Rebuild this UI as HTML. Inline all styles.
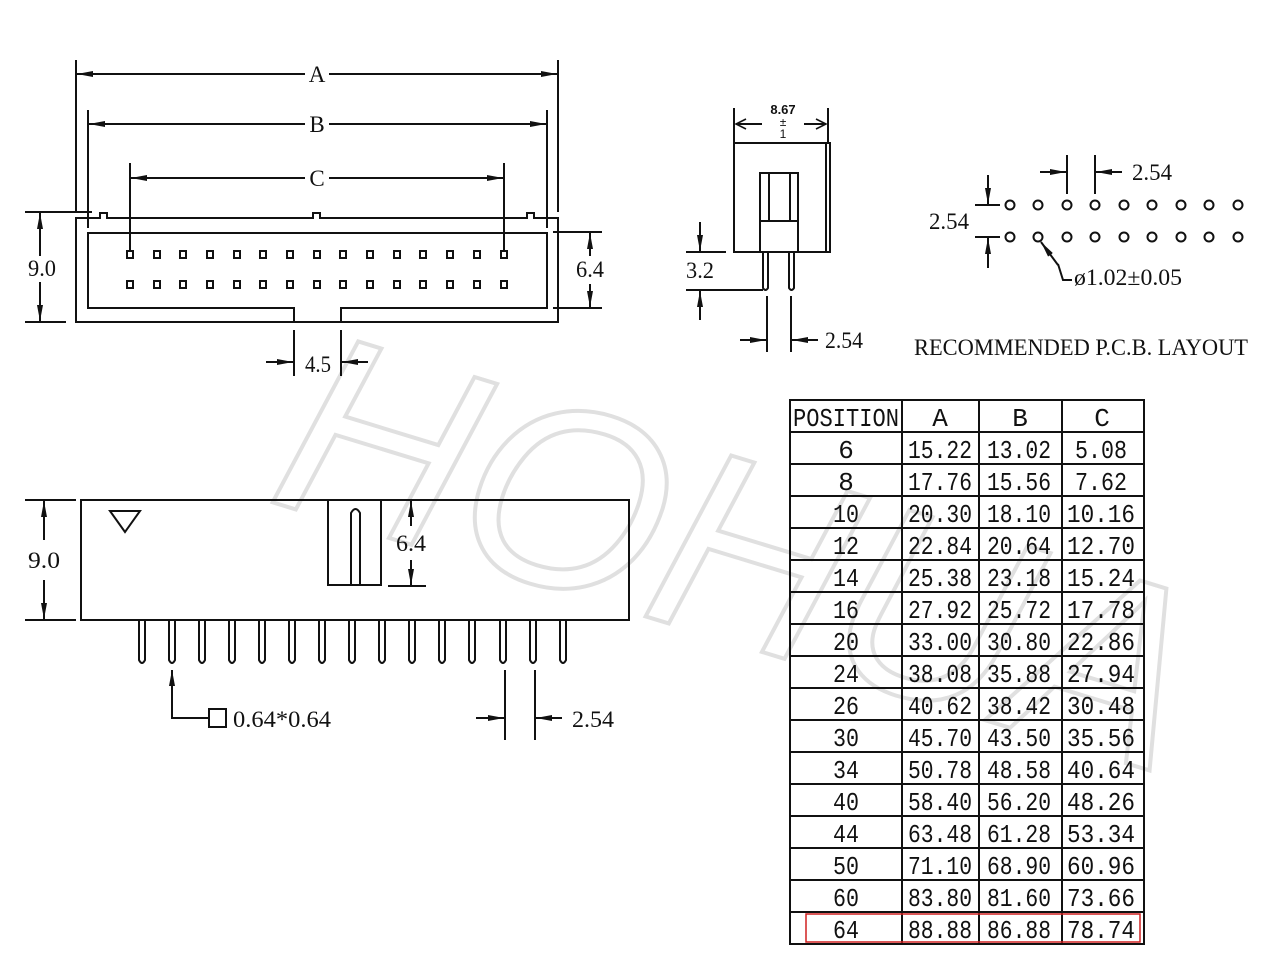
<!DOCTYPE html>
<html><head><meta charset="utf-8"><style>
html,body{margin:0;padding:0;background:#fff;}
svg{display:block;}
.d{font-family:"Liberation Serif",serif;font-size:23px;fill:#111;}
.t{font-family:"Liberation Mono",monospace;font-size:26px;fill:#111;}
</style></head><body>
<svg width="1280" height="972" viewBox="0 0 1280 972" xmlns="http://www.w3.org/2000/svg">
<defs>
<marker id="ar" viewBox="0 0 16 8" refX="16" refY="4" markerWidth="16" markerHeight="8" markerUnits="userSpaceOnUse" orient="auto-start-reverse"><path d="M0,1 L16,4 L0,7 Z" fill="#111"/></marker>
<marker id="oa" viewBox="0 0 12 12" refX="11" refY="6" markerWidth="12" markerHeight="12" markerUnits="userSpaceOnUse" orient="auto-start-reverse"><path d="M1,1 L11,6 L1,11" fill="none" stroke="#111" stroke-width="1.6"/></marker>
</defs>
<rect width="1280" height="972" fill="#fff"/>
<!-- watermark -->
<text x="265" y="500" transform="rotate(17 265 500)" font-family="Liberation Sans,sans-serif" font-style="italic" font-size="260" fill="none" stroke="#e0e0e0" stroke-width="4">HOHUA</text>

<g stroke="#111" stroke-width="2" fill="none">
<!-- TOP VIEW -->
<path d="M76,218 H100 V213 H107 V218 H313 V213 H320 V218 H527 V213 H534 V218 H558 V322 H76 Z"/>
<path d="M294,322 V308 H88 V233 H547 V308 H341 V322"/>
<path d="M76,60 V212 M558,60 V212 M88,110 V228 M547,110 V228 M130,163 V250 M504,163 V250"/>
<path d="M25,212 H92 M25,322 H66 M553,232 H602 M553,308 H602"/>
<path d="M294,330 V376 M341,330 V376"/>
</g>
<g stroke="#111" stroke-width="2">
<line x1="77" y1="74" x2="305" y2="74" marker-start="url(#ar)"/>
<line x1="329" y1="74" x2="557" y2="74" marker-end="url(#ar)"/>
<line x1="89" y1="124" x2="305" y2="124" marker-start="url(#ar)"/>
<line x1="329" y1="124" x2="546" y2="124" marker-end="url(#ar)"/>
<line x1="131" y1="178" x2="305" y2="178" marker-start="url(#ar)"/>
<line x1="329" y1="178" x2="503" y2="178" marker-end="url(#ar)"/>
<line x1="40" y1="213" x2="40" y2="256" marker-start="url(#ar)"/>
<line x1="40" y1="282" x2="40" y2="321" marker-end="url(#ar)"/>
<line x1="590" y1="233" x2="590" y2="256" marker-start="url(#ar)"/>
<line x1="590" y1="284" x2="590" y2="307" marker-end="url(#ar)"/>
<line x1="266" y1="362" x2="293" y2="362" marker-end="url(#ar)"/>
<line x1="368" y1="362" x2="342" y2="362" marker-end="url(#ar)"/>
</g>
<g fill="none" stroke="#111" stroke-width="2">
<rect x="127" y="251" width="6" height="7"/><rect x="154" y="251" width="6" height="7"/><rect x="180" y="251" width="6" height="7"/><rect x="207" y="251" width="6" height="7"/><rect x="234" y="251" width="6" height="7"/><rect x="260" y="251" width="6" height="7"/><rect x="287" y="251" width="6" height="7"/><rect x="314" y="251" width="6" height="7"/><rect x="340" y="251" width="6" height="7"/><rect x="367" y="251" width="6" height="7"/><rect x="394" y="251" width="6" height="7"/><rect x="420" y="251" width="6" height="7"/><rect x="447" y="251" width="6" height="7"/><rect x="474" y="251" width="6" height="7"/><rect x="501" y="251" width="6" height="7"/>
<rect x="127" y="281" width="6" height="7"/><rect x="154" y="281" width="6" height="7"/><rect x="180" y="281" width="6" height="7"/><rect x="207" y="281" width="6" height="7"/><rect x="234" y="281" width="6" height="7"/><rect x="260" y="281" width="6" height="7"/><rect x="287" y="281" width="6" height="7"/><rect x="314" y="281" width="6" height="7"/><rect x="340" y="281" width="6" height="7"/><rect x="367" y="281" width="6" height="7"/><rect x="394" y="281" width="6" height="7"/><rect x="420" y="281" width="6" height="7"/><rect x="447" y="281" width="6" height="7"/><rect x="474" y="281" width="6" height="7"/><rect x="501" y="281" width="6" height="7"/>
</g>
<text class="d" x="317" y="82" text-anchor="middle">A</text>
<text class="d" x="317" y="132" text-anchor="middle">B</text>
<text class="d" x="317" y="186" text-anchor="middle">C</text>
<text class="d" x="28" y="276" textLength="28" lengthAdjust="spacingAndGlyphs">9.0</text>
<text class="d" x="576" y="277" textLength="28" lengthAdjust="spacingAndGlyphs">6.4</text>
<text class="d" x="305" y="372" textLength="26" lengthAdjust="spacingAndGlyphs">4.5</text>

<!-- SIDE VIEW -->
<g stroke="#111" stroke-width="2" fill="none">
<path d="M734,108 V142 M828,108 V142"/>
<rect x="734" y="143" width="96" height="109"/>
<line x1="826" y1="143" x2="826" y2="252"/>
<rect x="760" y="173" width="38" height="79"/>
<path d="M769,173 V221 M790,173 V221 M760,221 H798"/>
<path d="M763,252 V288 Q765.5,292 768,288 V252 M789,252 V288 Q791.5,292 794,288 V252"/>
<path d="M686,252 H726 M686,290 H763"/>
<path d="M767,296 V352 M791,296 V352"/>
</g>
<g stroke="#111" stroke-width="2">
<line x1="762" y1="124" x2="736" y2="124" marker-end="url(#oa)"/>
<line x1="804" y1="124" x2="826" y2="124" marker-end="url(#oa)"/>
<line x1="700" y1="222" x2="700" y2="251" marker-end="url(#ar)"/>
<line x1="700" y1="320" x2="700" y2="291" marker-end="url(#ar)"/>
<line x1="740" y1="340" x2="766" y2="340" marker-end="url(#ar)"/>
<line x1="818" y1="340" x2="792" y2="340" marker-end="url(#ar)"/>
</g>
<text x="783" y="114" text-anchor="middle" font-family="Liberation Sans,sans-serif" font-weight="bold" font-size="13" fill="#111">8.67</text>
<text x="783" y="126" text-anchor="middle" font-family="Liberation Sans,sans-serif" font-size="12" fill="#111">±</text>
<text x="783" y="138" text-anchor="middle" font-family="Liberation Sans,sans-serif" font-size="12" fill="#111">1</text>
<text class="d" x="686" y="278" textLength="28" lengthAdjust="spacingAndGlyphs">3.2</text>
<text class="d" x="825" y="348" textLength="38" lengthAdjust="spacingAndGlyphs">2.54</text>

<!-- PCB LAYOUT -->
<g stroke="#111" stroke-width="2" fill="none">
<circle cx="1010" cy="205" r="4.5"/><circle cx="1038" cy="205" r="4.5"/><circle cx="1067" cy="205" r="4.5"/><circle cx="1095" cy="205" r="4.5"/><circle cx="1124" cy="205" r="4.5"/><circle cx="1152" cy="205" r="4.5"/><circle cx="1181" cy="205" r="4.5"/><circle cx="1209" cy="205" r="4.5"/><circle cx="1238" cy="205" r="4.5"/>
<circle cx="1010" cy="237" r="4.5"/><circle cx="1038" cy="237" r="4.5"/><circle cx="1067" cy="237" r="4.5"/><circle cx="1095" cy="237" r="4.5"/><circle cx="1124" cy="237" r="4.5"/><circle cx="1152" cy="237" r="4.5"/><circle cx="1181" cy="237" r="4.5"/><circle cx="1209" cy="237" r="4.5"/><circle cx="1238" cy="237" r="4.5"/>
<path d="M1067,155 V194 M1095,155 V194 M975,205 H1000 M975,237 H1000"/>
<path d="M1058,264 L1063,280 H1072"/>
</g>
<g stroke="#111" stroke-width="2">
<line x1="1040" y1="172" x2="1066" y2="172" marker-end="url(#ar)"/>
<line x1="1122" y1="172" x2="1096" y2="172" marker-end="url(#ar)"/>
<line x1="988" y1="175" x2="988" y2="204" marker-end="url(#ar)"/>
<line x1="988" y1="268" x2="988" y2="238" marker-end="url(#ar)"/>
<line x1="1058" y1="265" x2="1041" y2="242" marker-end="url(#ar)"/>
</g>
<text class="d" x="1132" y="180" textLength="40" lengthAdjust="spacingAndGlyphs">2.54</text>
<text class="d" x="929" y="229" textLength="40" lengthAdjust="spacingAndGlyphs">2.54</text>
<text class="d" x="1074" y="285" textLength="108" lengthAdjust="spacingAndGlyphs">ø1.02±0.05</text>
<text class="d" x="914" y="355" textLength="334" lengthAdjust="spacingAndGlyphs">RECOMMENDED P.C.B. LAYOUT</text>

<!-- BOTTOM SIDE VIEW -->
<g stroke="#111" stroke-width="2" fill="none">
<rect x="81" y="500" width="548" height="120"/>
<path d="M110,511 H140 L125,532 Z"/>
<path d="M328,500 V585 H381 V500"/>
<path d="M351,585 V513 Q355.5,505 360,513 V585"/>
<path d="M25,500 H76 M25,620 H76 M388,586 H426"/>
<path d="M172,680 V718 H208"/>
<rect x="209" y="709" width="17" height="18"/>
<path d="M505,670 V740 M535,670 V740"/>
<g id="pin"><path d="M139,621 V660 Q142,666 145,660 V621"/></g>
<use href="#pin" x="30"/><use href="#pin" x="60"/><use href="#pin" x="90"/><use href="#pin" x="120"/><use href="#pin" x="150"/><use href="#pin" x="180"/><use href="#pin" x="210"/><use href="#pin" x="240"/><use href="#pin" x="270"/><use href="#pin" x="300"/><use href="#pin" x="330"/><use href="#pin" x="361"/><use href="#pin" x="391"/><use href="#pin" x="421"/>
</g>
<g stroke="#111" stroke-width="2">
<line x1="44" y1="501" x2="44" y2="540" marker-start="url(#ar)"/>
<line x1="44" y1="580" x2="44" y2="619" marker-end="url(#ar)"/>
<line x1="411" y1="501" x2="411" y2="526" marker-start="url(#ar)"/>
<line x1="411" y1="560" x2="411" y2="585" marker-end="url(#ar)"/>
<line x1="172" y1="690" x2="172" y2="670" marker-end="url(#ar)"/>
<line x1="476" y1="718" x2="504" y2="718" marker-end="url(#ar)"/>
<line x1="562" y1="718" x2="536" y2="718" marker-end="url(#ar)"/>
</g>
<text class="d" x="28" y="568" textLength="32" lengthAdjust="spacingAndGlyphs">9.0</text>
<text class="d" x="396" y="551" textLength="30" lengthAdjust="spacingAndGlyphs">6.4</text>
<text class="d" x="233" y="727" textLength="98" lengthAdjust="spacingAndGlyphs">0.64*0.64</text>
<text class="d" x="572" y="727" textLength="42" lengthAdjust="spacingAndGlyphs">2.54</text>

<!-- TABLE -->
<g stroke="#111" stroke-width="2" fill="none">
<rect x="790" y="400" width="354" height="544"/>
<path d="M902,400 V944 M979,400 V944 M1062,400 V944"/>
<path d="M790,432 H1144 M790,464 H1144 M790,496 H1144 M790,528 H1144 M790,560 H1144 M790,592 H1144 M790,624 H1144 M790,656 H1144 M790,688 H1144 M790,720 H1144 M790,752 H1144 M790,784 H1144 M790,816 H1144 M790,848 H1144 M790,880 H1144 M790,912 H1144"/>
</g>
<rect x="806" y="914" width="334" height="28" fill="none" stroke="#d02020" stroke-width="1.5"/>
<g class="t" text-anchor="middle">
<text x="846" y="426" textLength="106" lengthAdjust="spacingAndGlyphs">POSITION</text><text x="940" y="426">A</text><text x="1020" y="426">B</text><text x="1102" y="426">C</text>
</g>
<g class="t" lengthAdjust="spacingAndGlyphs">
<text x="846" y="458" text-anchor="middle">6</text><text x="908" y="458" textLength="64" lengthAdjust="spacingAndGlyphs">15.22</text><text x="987" y="458" textLength="64" lengthAdjust="spacingAndGlyphs">13.02</text><text x="1075" y="458" textLength="52" lengthAdjust="spacingAndGlyphs">5.08</text>
<text x="846" y="490" text-anchor="middle">8</text><text x="908" y="490" textLength="64" lengthAdjust="spacingAndGlyphs">17.76</text><text x="987" y="490" textLength="64" lengthAdjust="spacingAndGlyphs">15.56</text><text x="1075" y="490" textLength="52" lengthAdjust="spacingAndGlyphs">7.62</text>
<text x="846" y="522" text-anchor="middle" textLength="26" lengthAdjust="spacingAndGlyphs">10</text><text x="908" y="522" textLength="64" lengthAdjust="spacingAndGlyphs">20.30</text><text x="987" y="522" textLength="64" lengthAdjust="spacingAndGlyphs">18.10</text><text x="1067" y="522" textLength="68" lengthAdjust="spacingAndGlyphs">10.16</text>
<text x="846" y="554" text-anchor="middle" textLength="26" lengthAdjust="spacingAndGlyphs">12</text><text x="908" y="554" textLength="64" lengthAdjust="spacingAndGlyphs">22.84</text><text x="987" y="554" textLength="64" lengthAdjust="spacingAndGlyphs">20.64</text><text x="1067" y="554" textLength="68" lengthAdjust="spacingAndGlyphs">12.70</text>
<text x="846" y="586" text-anchor="middle" textLength="26" lengthAdjust="spacingAndGlyphs">14</text><text x="908" y="586" textLength="64" lengthAdjust="spacingAndGlyphs">25.38</text><text x="987" y="586" textLength="64" lengthAdjust="spacingAndGlyphs">23.18</text><text x="1067" y="586" textLength="68" lengthAdjust="spacingAndGlyphs">15.24</text>
<text x="846" y="618" text-anchor="middle" textLength="26" lengthAdjust="spacingAndGlyphs">16</text><text x="908" y="618" textLength="64" lengthAdjust="spacingAndGlyphs">27.92</text><text x="987" y="618" textLength="64" lengthAdjust="spacingAndGlyphs">25.72</text><text x="1067" y="618" textLength="68" lengthAdjust="spacingAndGlyphs">17.78</text>
<text x="846" y="650" text-anchor="middle" textLength="26" lengthAdjust="spacingAndGlyphs">20</text><text x="908" y="650" textLength="64" lengthAdjust="spacingAndGlyphs">33.00</text><text x="987" y="650" textLength="64" lengthAdjust="spacingAndGlyphs">30.80</text><text x="1067" y="650" textLength="68" lengthAdjust="spacingAndGlyphs">22.86</text>
<text x="846" y="682" text-anchor="middle" textLength="26" lengthAdjust="spacingAndGlyphs">24</text><text x="908" y="682" textLength="64" lengthAdjust="spacingAndGlyphs">38.08</text><text x="987" y="682" textLength="64" lengthAdjust="spacingAndGlyphs">35.88</text><text x="1067" y="682" textLength="68" lengthAdjust="spacingAndGlyphs">27.94</text>
<text x="846" y="714" text-anchor="middle" textLength="26" lengthAdjust="spacingAndGlyphs">26</text><text x="908" y="714" textLength="64" lengthAdjust="spacingAndGlyphs">40.62</text><text x="987" y="714" textLength="64" lengthAdjust="spacingAndGlyphs">38.42</text><text x="1067" y="714" textLength="68" lengthAdjust="spacingAndGlyphs">30.48</text>
<text x="846" y="746" text-anchor="middle" textLength="26" lengthAdjust="spacingAndGlyphs">30</text><text x="908" y="746" textLength="64" lengthAdjust="spacingAndGlyphs">45.70</text><text x="987" y="746" textLength="64" lengthAdjust="spacingAndGlyphs">43.50</text><text x="1067" y="746" textLength="68" lengthAdjust="spacingAndGlyphs">35.56</text>
<text x="846" y="778" text-anchor="middle" textLength="26" lengthAdjust="spacingAndGlyphs">34</text><text x="908" y="778" textLength="64" lengthAdjust="spacingAndGlyphs">50.78</text><text x="987" y="778" textLength="64" lengthAdjust="spacingAndGlyphs">48.58</text><text x="1067" y="778" textLength="68" lengthAdjust="spacingAndGlyphs">40.64</text>
<text x="846" y="810" text-anchor="middle" textLength="26" lengthAdjust="spacingAndGlyphs">40</text><text x="908" y="810" textLength="64" lengthAdjust="spacingAndGlyphs">58.40</text><text x="987" y="810" textLength="64" lengthAdjust="spacingAndGlyphs">56.20</text><text x="1067" y="810" textLength="68" lengthAdjust="spacingAndGlyphs">48.26</text>
<text x="846" y="842" text-anchor="middle" textLength="26" lengthAdjust="spacingAndGlyphs">44</text><text x="908" y="842" textLength="64" lengthAdjust="spacingAndGlyphs">63.48</text><text x="987" y="842" textLength="64" lengthAdjust="spacingAndGlyphs">61.28</text><text x="1067" y="842" textLength="68" lengthAdjust="spacingAndGlyphs">53.34</text>
<text x="846" y="874" text-anchor="middle" textLength="26" lengthAdjust="spacingAndGlyphs">50</text><text x="908" y="874" textLength="64" lengthAdjust="spacingAndGlyphs">71.10</text><text x="987" y="874" textLength="64" lengthAdjust="spacingAndGlyphs">68.90</text><text x="1067" y="874" textLength="68" lengthAdjust="spacingAndGlyphs">60.96</text>
<text x="846" y="906" text-anchor="middle" textLength="26" lengthAdjust="spacingAndGlyphs">60</text><text x="908" y="906" textLength="64" lengthAdjust="spacingAndGlyphs">83.80</text><text x="987" y="906" textLength="64" lengthAdjust="spacingAndGlyphs">81.60</text><text x="1067" y="906" textLength="68" lengthAdjust="spacingAndGlyphs">73.66</text>
<text x="846" y="938" text-anchor="middle" textLength="26" lengthAdjust="spacingAndGlyphs">64</text><text x="908" y="938" textLength="64" lengthAdjust="spacingAndGlyphs">88.88</text><text x="987" y="938" textLength="64" lengthAdjust="spacingAndGlyphs">86.88</text><text x="1067" y="938" textLength="68" lengthAdjust="spacingAndGlyphs">78.74</text>
</g>
</svg>
</body></html>
